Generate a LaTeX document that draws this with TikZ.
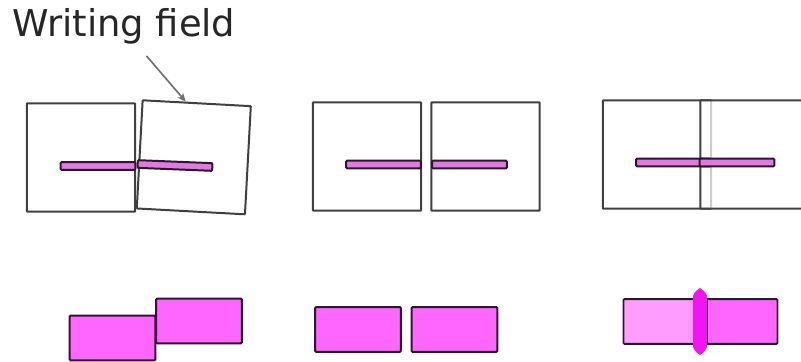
\documentclass[tikz,border=0pt]{standalone}
\usepackage{fontspec}
\setmainfont{DejaVu Sans}
\usepackage{tikz}
\usetikzlibrary{positioning,arrows.meta,calc}
\definecolor{frame}{HTML}{404040}
\definecolor{ink}{HTML}{2E1530}
\definecolor{barpink}{HTML}{E07AE0}
\definecolor{blkpink}{HTML}{FF66FF}
\definecolor{lightpink}{HTML}{FF9DFF}
\definecolor{seam}{HTML}{F214F2}
\definecolor{pointer}{HTML}{707070}

\begin{document}
\begin{tikzpicture}[x=0.3mm, y=-0.3mm,
  field/.style={draw=frame, line width=1.7pt, fill=white, minimum width=32.5mm, minimum height=32.5mm, inner sep=0pt, rounded corners=0.6pt},
  bar/.style={draw=ink, line width=1.7pt, fill=barpink, minimum width=22.4mm, minimum height=2.3mm, inner sep=0pt, rounded corners=0.8pt},
  blk/.style={draw=ink, line width=1.6pt, fill=blkpink, minimum width=25.7mm, minimum height=13.4mm, inner sep=0pt, rounded corners=0.8pt}]
\clip (0,0) rectangle (801,362);
% label
\node[font=\fontsize{31.5}{34}\selectfont, text=black!85, anchor=base west, inner sep=0pt] (label) at (12,36) {Writing field};
% left panel: rotated field
\node[field] (f1a) at (81,157.5) {};
\node[field, rotate=-3.1] (f1b) at (193.8,157.3) {};
\node[bar] (b1a) at (98,166) {};
\node[bar, rotate=-2.3] (b1b) at (175,165.5) {};
\draw[pointer, line width=1.4pt, -{Stealth[length=2.6mm, width=2.2mm]}] ([xshift=6.8mm, yshift=-3.6mm]label.south) -- ($(f1b.north west)!0.4!(f1b.north east)$);
% middle panel: fields side by side
\node[field] (f2a) at (367,156.5) {};
\node[field] (f2b) at (485.5,156.5) {};
\node[bar] (b2a) at (383.5,164.5) {};
\node[bar] (b2b) at (469.5,164.5) {};
% right panel: fields overlapping
\node[field] (f3a) at (657,154.5) {};
\node[field, fill opacity=0.75] (f3b) at (754.5,154.5) {};
\node[bar] (b3a) at (673.5,162.5) {};
\node[bar] (b3b) at (737,162.5) {};
% bottom row
\node[blk] (p1a) at (112.5,338) {};
\node[blk] (p1b) at (199,321) {};
\node[blk] (p2a) at (358,329.5) {};
\node[blk] (p2b) at (454.5,329.5) {};
\node[blk, minimum width=25.2mm] (p3b) at (735.5,321.5) {};
\node[blk, fill=lightpink, minimum width=24.9mm] (p3a) at (665,321.5) {};
\fill[seam] (700,288) .. controls (706,292) and (707,295) .. (707,298) -- (707,345)
  .. controls (707,348) and (706,351) .. (700,355) .. controls (694,351) and (693,348) .. (693,345)
  -- (693,298) .. controls (693,295) and (694,292) .. (700,288) -- cycle;
\draw[ink, line width=1.6pt] (p3a.north east) -- (p3a.south east);
\end{tikzpicture}
\end{document}
